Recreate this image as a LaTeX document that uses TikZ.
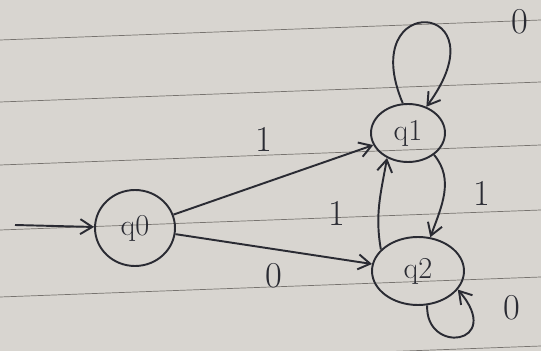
\documentclass[tikz,border=0pt]{standalone}
\usetikzlibrary{arrows.meta,positioning,shapes.geometric}
\definecolor{paper}{HTML}{D8D5D0}
\definecolor{ink}{HTML}{2A2B33}
\definecolor{rule}{HTML}{77736F}

\begin{document}
\begin{tikzpicture}[x=0.02cm, y=-0.02cm, font=\LARGE, >={Straight Barb[length=2.4mm,width=3mm]},
  st/.style={draw=ink, line width=1.1pt, ellipse, inner sep=0pt, text=ink},
  e/.style={->, line width=1.1pt, draw=ink},
  lbl/.style={text=ink, font=\huge}]
\fill[paper] (0,0) rectangle (541,351);
\useasboundingbox (0,0) rectangle (541,351);
% ruled lines of the page
\foreach \y in {40,102,165,230,297,366} \draw[rule, thin] (0,\y) -- (541,\y-20);
% states
\node[st, minimum width=1.6cm, minimum height=1.52cm] (q0) at (135,228) {q0};
\node[st, minimum width=1.48cm, minimum height=1.16cm] (q1) at (408,133) {q1};
\node[st, minimum width=1.84cm, minimum height=1.36cm] (q2) at (418,271) {q2};
\coordinate (s) at (15,225);
% transitions
\draw[e] (s) -- (q0);
\draw[e] (q0) -- node[lbl, pos=0.45, above=0.5cm] (l01) {1} (q1);
\draw[e] (q0) -- node[lbl, pos=0.5, below=0.15cm] (l02) {0} (q2);
\draw[e] (q1.-40) to[out=-50, in=70] node[lbl, right=0.45cm] (l12) {1} (q2.70);
\draw[e] (q2.150) to[out=100, in=-100] node[lbl, left=0.55cm, yshift=-0.2cm] (l21) {1} (q1.-130);
\draw[e] (q1.100) .. controls (355,-10) and (505,0) .. (q1.55);
\draw[e] (q2.-75) .. controls (425,355) and (505,345) .. (q2.-25);
\node[lbl] (l11) at (520,22) {0};
\node[lbl] (l22) at (512,308) {0};
\end{tikzpicture}
\end{document}
